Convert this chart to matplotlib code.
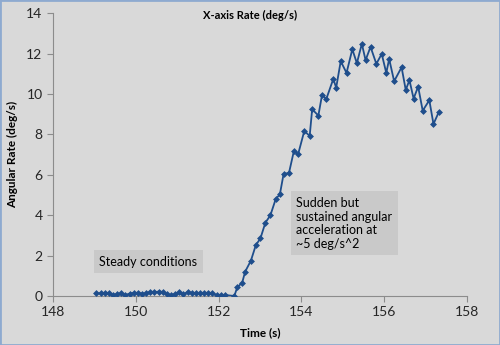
import matplotlib.pyplot as plt
from matplotlib.patches import Rectangle

plt.rcParams['font.family'] = ['Lato', 'DejaVu Sans']

# time (s) and x-axis angular rate (deg/s)
time = [149.05, 149.15, 149.25, 149.35, 149.45, 149.55, 149.65, 149.75,
        149.85, 149.95, 150.05, 150.15, 150.25, 150.35, 150.45, 150.55,
        150.65, 150.75, 150.85, 150.95, 151.05, 151.15, 151.25, 151.35,
        151.45, 151.55, 151.65, 151.75, 151.85, 151.95, 152.05, 152.15,
        152.38,
        152.45, 152.57, 152.64, 152.78, 152.90, 153.01, 153.13, 153.25,
        153.38, 153.48, 153.57, 153.70, 153.82, 153.92, 154.07, 154.20,
        154.26, 154.41, 154.50, 154.60, 154.77, 154.84, 154.95, 155.09,
        155.23, 155.34, 155.46, 155.55, 155.67, 155.81, 155.94, 156.05,
        156.12, 156.24, 156.42, 156.52, 156.61, 156.71, 156.82, 156.93,
        157.09, 157.19, 157.32]
rate = [0.13, 0.13, 0.13, 0.13, 0.05, 0.10, 0.13, 0.05,
        0.12, 0.15, 0.14, 0.12, 0.13, 0.20, 0.18, 0.22,
        0.20, 0.08, 0.05, 0.10, 0.20, 0.08, 0.20, 0.15,
        0.13, 0.13, 0.13, 0.13, 0.13, 0.05, 0.05, 0.05,
        0.0,
        0.43, 0.66, 1.20, 1.75, 2.52, 2.85, 3.63, 3.99,
        4.80, 5.03, 6.04, 6.09, 7.19, 7.01, 8.17, 7.92,
        9.24, 8.93, 9.97, 9.74, 10.74, 10.31, 11.62, 11.04,
        12.21, 11.52, 12.48, 11.67, 12.33, 11.49, 11.98, 11.04,
        11.73, 10.63, 11.32, 10.20, 10.68, 9.77, 10.36, 9.17,
        9.69, 8.51, 9.11]

xticks = [148, 150, 152, 154, 156, 158]
yticks = [0, 2, 4, 6, 8, 10, 12, 14]

bg = '#d9d9d9'
fig = plt.figure(figsize=(5.0, 3.45), dpi=100, facecolor=bg)
ax = fig.add_axes([0.106, 0.142, 0.828, 0.82])
ax.set_facecolor(bg)

ax.plot(time, rate, color='#1f4e8c', lw=1.3, marker='D', ms=3,
        markeredgewidth=0.5, zorder=3)

ax.set_xlim(148, 158)
ax.set_ylim(0, 14)
ax.set_xticks(xticks)
ax.set_yticks(yticks)
for s in ['top', 'right']:
    ax.spines[s].set_visible(False)
for s in ['left', 'bottom']:
    ax.spines[s].set_color('#8c8c8c')
ax.tick_params(colors='#8c8c8c', labelcolor='#262626', labelsize=10,
               length=4, direction='out')

ax.set_xlabel('Time (s)', fontsize=8.5, fontweight='bold', labelpad=6)
ax.set_ylabel('Angular Rate (deg/s)', fontsize=8.5, fontweight='bold', labelpad=6)
fig.text(0.5, 0.955, 'X-axis Rate (deg/s)', ha='center', va='center',
         fontsize=8, fontweight='bold')

box = dict(boxstyle='square,pad=0.45', fc='#c9c9c9', ec='none')
ax.text(149.12, 1.7, 'Steady conditions', fontsize=9, va='center', bbox=box)
ax.text(153.88, 2.3, 'Sudden but\nsustained angular\nacceleration at\n~5 deg/s^2',
        fontsize=9, va='bottom', linespacing=1.15, bbox=box, zorder=2)

fig.patches.append(Rectangle((0, 0), 1, 1, transform=fig.transFigure,
                             fill=False, ec='#8eaad0', lw=2))
fig.savefig('out.png', dpi=100, facecolor=bg)
